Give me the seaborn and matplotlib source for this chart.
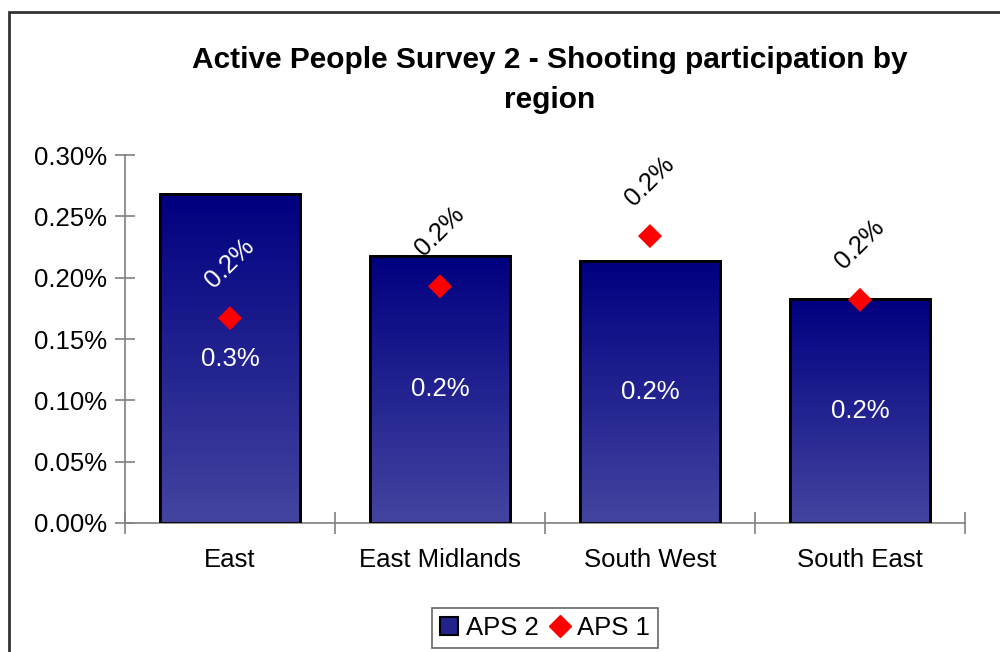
import numpy as np
import pandas as pd
import matplotlib
matplotlib.use('Agg')
import matplotlib.pyplot as plt
import seaborn as sns
from matplotlib.patches import Rectangle, Patch
from matplotlib.lines import Line2D
from matplotlib.colors import LinearSegmentedColormap

# values (in percent)
regions = ['East', 'East Midlands', 'South West', 'South East']
aps2 = [0.268, 0.218, 0.214, 0.183]
aps1 = [0.167, 0.193, 0.234, 0.182]
y_ticks = [0.00, 0.05, 0.10, 0.15, 0.20, 0.25, 0.30]

df = pd.DataFrame({'region': regions, 'APS 2': aps2, 'APS 1': aps1})

sns.set_style('white')
plt.rcParams['font.family'] = ['Liberation Sans', 'DejaVu Sans']
plt.rcParams['text.color'] = 'black'
plt.rcParams['xtick.color'] = 'black'
plt.rcParams['ytick.color'] = 'black'

fs = 18.5

fig = plt.figure(figsize=(10, 6.52), dpi=100)
ax = fig.add_axes([0.125, 0.198, 0.84, 0.564])

# bars
sns.barplot(data=df, x='region', y='APS 2', color='#000080', width=0.67,
            edgecolor='black', linewidth=2, ax=ax, zorder=2)

# gradient fill inside each bar: dark navy at top, lighter at bottom
grad = LinearSegmentedColormap.from_list('g', ['#000080', '#4444a0'])
for p in ax.patches:
    x0, y0 = p.get_x(), p.get_y()
    w, h = p.get_width(), p.get_height()
    im = ax.imshow(np.linspace(0, 1, 256).reshape(-1, 1), cmap=grad,
                   extent=[x0, x0 + w, y0, y0 + h], aspect='auto', zorder=2.5,
                   origin='upper')
    im.set_clip_path(p)
    ax.add_patch(Rectangle((x0, y0), w, h, fill=False, edgecolor='black',
                           linewidth=2, zorder=3))

# diamonds
sns.scatterplot(data=df, x='region', y='APS 1', marker='D', color='red',
                s=150, edgecolor='none', ax=ax, zorder=4)

ax.set_xlim(-0.5, 3.5)
ax.set_ylim(0, 0.30)
ax.set_yticks(y_ticks)
ax.set_yticklabels([f'{v:.2f}%' for v in y_ticks], fontsize=fs)
ax.set_xticks(range(len(regions)))
ax.set_xticklabels(regions, fontsize=fs)
ax.set_xticks([-0.5, 0.5, 1.5, 2.5, 3.5], minor=True)
ax.tick_params(axis='x', which='major', length=0, pad=18, bottom=True)
ax.tick_params(axis='x', which='minor', length=16, width=1.2, direction='inout',
               color='#808080', bottom=True)
ax.tick_params(axis='y', length=14, width=1.2, direction='inout', color='#808080',
               pad=6, left=True)
ax.set_xlabel('')
ax.set_ylabel('')
for s in ['top', 'right']:
    ax.spines[s].set_visible(False)
for s in ['left', 'bottom']:
    ax.spines[s].set_color('#808080')
    ax.spines[s].set_linewidth(1.2)

# data labels
for i, v in enumerate(aps2):
    ax.text(i, v / 2, f'{v:.1f}%', color='white', fontsize=fs,
            ha='center', va='center', zorder=5)
for i, v in enumerate(aps1):
    col = 'white' if v + 0.045 < aps2[i] else 'black'
    ax.text(i, v + 0.045, f'{v:.1f}%', color=col, fontsize=fs, rotation=45,
            ha='center', va='center', zorder=5)

fig.text(0.55, 0.908, 'Active People Survey 2 - Shooting participation by',
         ha='center', va='center', fontsize=21.5, fontweight='bold')
fig.text(0.55, 0.847, 'region', ha='center', va='center', fontsize=21.5,
         fontweight='bold')

handles = [Patch(facecolor='#22228a', edgecolor='black', linewidth=1.5),
           Line2D([], [], marker='D', color='red', linestyle='none', markersize=11)]
leg = fig.legend(handles, ['APS 2', 'APS 1'], loc='center', ncol=2,
                 bbox_to_anchor=(0.545, 0.037), fontsize=fs, frameon=True,
                 fancybox=False, edgecolor='#404040', handlelength=0.7,
                 handletextpad=0.3, columnspacing=0.5, borderpad=0.3)
leg.get_frame().set_linewidth(1.2)

# outer chart border
fig.add_artist(Rectangle((0.009, -0.1), 1.2, 0.1 + 1 - 12 / 652,
                         transform=fig.transFigure, fill=False,
                         edgecolor='#333333', linewidth=2))

fig.savefig('out.png', dpi=100)
